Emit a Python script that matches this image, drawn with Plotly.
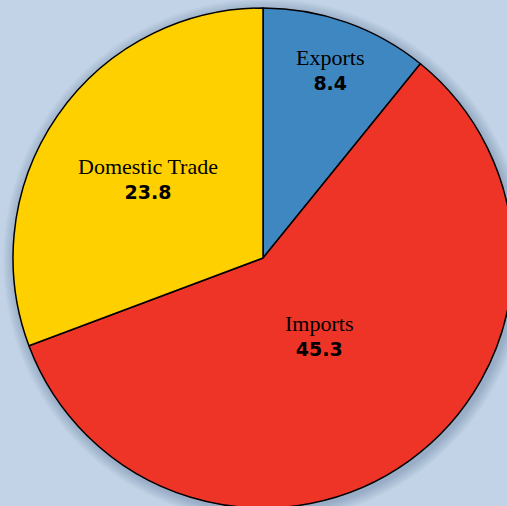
import math
import plotly.graph_objects as go

labels = ["Exports", "Imports", "Domestic Trade"]
values = [8.4, 45.3, 23.8]
colors = ["#3f87c0", "#ee3427", "#ffd000"]
label_radius = [0.80, 0.38, 0.56]

W, H = 520, 512
ML, MT, MR, MB = 13, 8, 7, 4

fig = go.Figure(go.Pie(
    labels=labels, values=values, sort=False, direction="clockwise", rotation=0,
    marker=dict(colors=colors, line=dict(color="#000000", width=1.5)),
    textinfo="none", hoverinfo="label+value", showlegend=False,
    domain=dict(x=[0, 1], y=[0, 1]),
))

# soft shadow behind the pie
shapes = []
n = 10
for i in range(n):
    grow = 0.024 * (n - i) / n
    dx, dy = 0.004, -0.005
    shapes.append(dict(type="circle", xref="paper", yref="paper", layer="below",
                       x0=0 - grow + dx, x1=1 + grow + dx, y0=0 - grow + dy, y1=1 + grow + dy,
                       fillcolor="rgba(50,70,100,0.028)", line=dict(width=0)))

total = sum(values)
cum = 0
annotations = []
for lab, v, fr in zip(labels, values, label_radius):
    mid = (cum + v / 2) / total * 2 * math.pi
    cum += v
    x = 0.5 + 0.5 * fr * math.sin(mid)
    y = 0.5 + 0.5 * fr * math.cos(mid)
    annotations.append(dict(
        x=x, y=y, xref="paper", yref="paper", showarrow=False,
        xanchor="center", yanchor="middle",
        text=(f"<span style='font-family:Liberation Serif;font-size:22px'>{lab}</span><br>"
              f"<span style='font-family:DejaVu Sans;font-size:19px'><b>{v}</b></span>"),
        font=dict(color="#000000", family="Liberation Serif", size=19),
        align="center",
    ))

fig.update_layout(
    width=W, height=H, margin=dict(l=ML, r=MR, t=MT, b=MB, pad=0),
    paper_bgcolor="#c3d3e7", plot_bgcolor="#c3d3e7",
    shapes=shapes, annotations=annotations,
)

fig.write_html("out.html", config={"displayModeBar": False},
               post_script="document.body.style.margin='0';document.body.style.overflow='hidden';document.documentElement.style.overflow='hidden';")
